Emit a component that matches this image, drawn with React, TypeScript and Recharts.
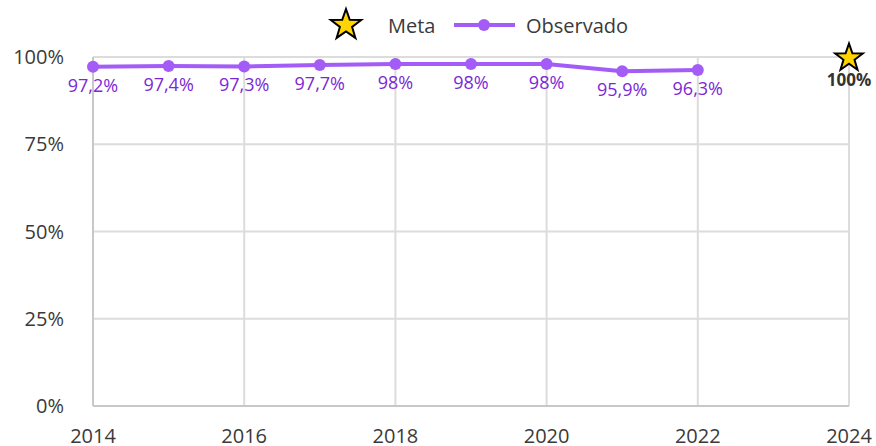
import React from "react";
import {
  ComposedChart,
  Line,
  Scatter,
  XAxis,
  YAxis,
  CartesianGrid,
  Legend,
  LabelList,
} from "recharts";

const years = [2014, 2015, 2016, 2017, 2018, 2019, 2020, 2021, 2022];
const observado = [97.2, 97.4, 97.3, 97.7, 98, 98, 98, 95.9, 96.3];
const metaYears = [2024];
const metaValues = [100];
const xTicks = [2014, 2016, 2018, 2020, 2022, 2024];
const yTicks = [0, 25, 50, 75, 100];

const lineData = years.map((y, i) => ({ year: y, observado: observado[i] }));
const metaData = metaYears.map((y, i) => ({ year: y, meta: metaValues[i] }));

const FONT = "'Open Sans', 'Noto Sans', sans-serif";
const LINE_COLOR = "#a35cf6";
const LABEL_COLOR = "#7c28d6";
const TEXT_COLOR = "#3a3a3a";
const GRID_COLOR = "#dcdcdc";

function starPath(cx: number, cy: number, R: number) {
  const r = R * 0.4;
  const pts: string[] = [];
  for (let i = 0; i < 10; i++) {
    const rad = i % 2 === 0 ? R : r;
    const a = -Math.PI / 2 + (i * Math.PI) / 5;
    pts.push(`${(cx + rad * Math.cos(a)).toFixed(2)},${(cy + rad * Math.sin(a)).toFixed(2)}`);
  }
  return `M${pts.join("L")}Z`;
}

const StarShape = (props: any) => {
  const { cx, cy } = props;
  if (cx == null || cy == null) return null;
  return (
    <path d={starPath(cx, cy + 1, 14.5)} fill="#ffd400" stroke="#000" strokeWidth={2} strokeLinejoin="miter" />
  );
};

const fmt = (v: any) => `${String(v).replace(".", ",")}%`;

const LegendContent = () => (
  <svg width={876} height={50} style={{ display: "block" }}>
    <path d={starPath(346, 25, 16)} fill="#ffd400" stroke="#000" strokeWidth={2} />
    <text x={388} y={33} fontSize={20} fill={TEXT_COLOR} fontFamily={FONT}>
      Meta
    </text>
    <line x1={454} y1={25} x2={515} y2={25} stroke={LINE_COLOR} strokeWidth={4} />
    <circle cx={484} cy={25} r={6} fill={LINE_COLOR} />
    <text x={526} y={33} fontSize={20} fill={TEXT_COLOR} fontFamily={FONT}>
      Observado
    </text>
  </svg>
);

const MetaLabel = (props: any) => {
  const { x, y, width, height, value } = props;
  const cx = x + (width || 0) / 2;
  const cy = y + (height || 0) / 2;
  return (
    <text x={cx} y={cy + 29} textAnchor="middle" fontSize={17} fontWeight="bold" fill="#333" fontFamily={FONT}>
      {`${value}%`}
    </text>
  );
};

export default function App() {
  return (
    <div style={{ position: "absolute", left: 0, top: 0, width: 876, height: 446, background: "#fff" }}>
      <ComposedChart
        width={876}
        height={446}
        margin={{ top: 57, right: 27, bottom: 0, left: 0 }}
        style={{ fontFamily: FONT }}
      >
        <CartesianGrid stroke={GRID_COLOR} strokeWidth={2} verticalValues={xTicks} />
        <XAxis
          type="number"
          dataKey="year"
          domain={[2014, 2024]}
          ticks={xTicks}
          allowDuplicatedCategory={false}
          height={40}
          tickLine={false}
          tickSize={0}
          tickMargin={23}
          axisLine={{ stroke: "#c8c8c8", strokeWidth: 2 }}
          tick={{ fontSize: 20, fill: TEXT_COLOR, fontFamily: FONT }}
        />
        <YAxis
          type="number"
          domain={[0, 100]}
          ticks={yTicks}
          width={93}
          tickLine={false}
          tickSize={0}
          tickMargin={29}
          axisLine={{ stroke: "#c8c8c8", strokeWidth: 2 }}
          tickFormatter={(v) => `${v}%`}
          tick={{ fontSize: 20, fill: TEXT_COLOR, fontFamily: FONT }}
        />
        <Legend
          layout="vertical"
          verticalAlign="middle"
          align="center"
          wrapperStyle={{ position: "absolute", top: 0, left: 0, width: 876, height: 50 }}
          content={<LegendContent />}
        />
        <Line
          data={lineData}
          dataKey="observado"
          name="Observado"
          stroke={LINE_COLOR}
          strokeWidth={4}
          dot={{ r: 6, fill: LINE_COLOR, stroke: LINE_COLOR, strokeWidth: 0 }}
          activeDot={false}
          isAnimationActive={false}
        >
          <LabelList
            dataKey="observado"
            position="bottom"
            offset={12}
            formatter={fmt}
            fill={LABEL_COLOR}
            fontSize={18}
            fontFamily={FONT}
          />
        </Line>
        <Scatter
          data={metaData}
          dataKey="meta"
          name="Meta"
          shape={<StarShape />}
          isAnimationActive={false}
        >
          <LabelList dataKey="meta" content={<MetaLabel />} />
        </Scatter>
      </ComposedChart>
    </div>
  );
}
